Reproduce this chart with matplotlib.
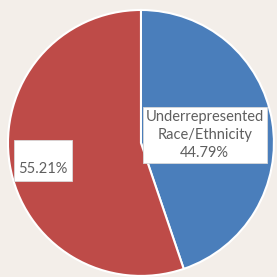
import matplotlib.pyplot as plt

labels = ["Underrepresented\nRace/Ethnicity", ""]
values = [44.79, 55.21]
colors = ["#4A7EBB", "#BE4B48"]

fig = plt.figure(figsize=(2.77, 2.77), dpi=100)
fig.patch.set_facecolor("#F3EEE9")
ax = fig.add_axes([0, 0, 1, 1])
ax.set_facecolor("#F3EEE9")

ax.pie(values, colors=colors, startangle=90, counterclock=False,
       wedgeprops=dict(edgecolor="white", linewidth=1.5))
ax.set_aspect("equal")
ax.set_xlim(-1.06, 1.023)
ax.set_ylim(-1.008, 1.075)
ax.axis("off")

box = dict(boxstyle="square,pad=0.2", facecolor="white", edgecolor="#D9D9D9", linewidth=0.6)
ax.text(0.48, 0.06, "%s\n%.2f%%" % (labels[0], values[0]), ha="center", va="center",
        fontsize=10.5, family="Lato", color="#5F5F5F", linespacing=1.35, bbox=box)
ax.text(-0.735, -0.13, " \n%.2f%%" % values[1], ha="center", va="center",
        fontsize=10.5, family="Lato", color="#5F5F5F", linespacing=1.35,
        bbox=dict(boxstyle="square,pad=0.3", facecolor="white", edgecolor="#D9D9D9", linewidth=0.6))

plt.savefig("out.png", dpi=100, facecolor=fig.get_facecolor())
